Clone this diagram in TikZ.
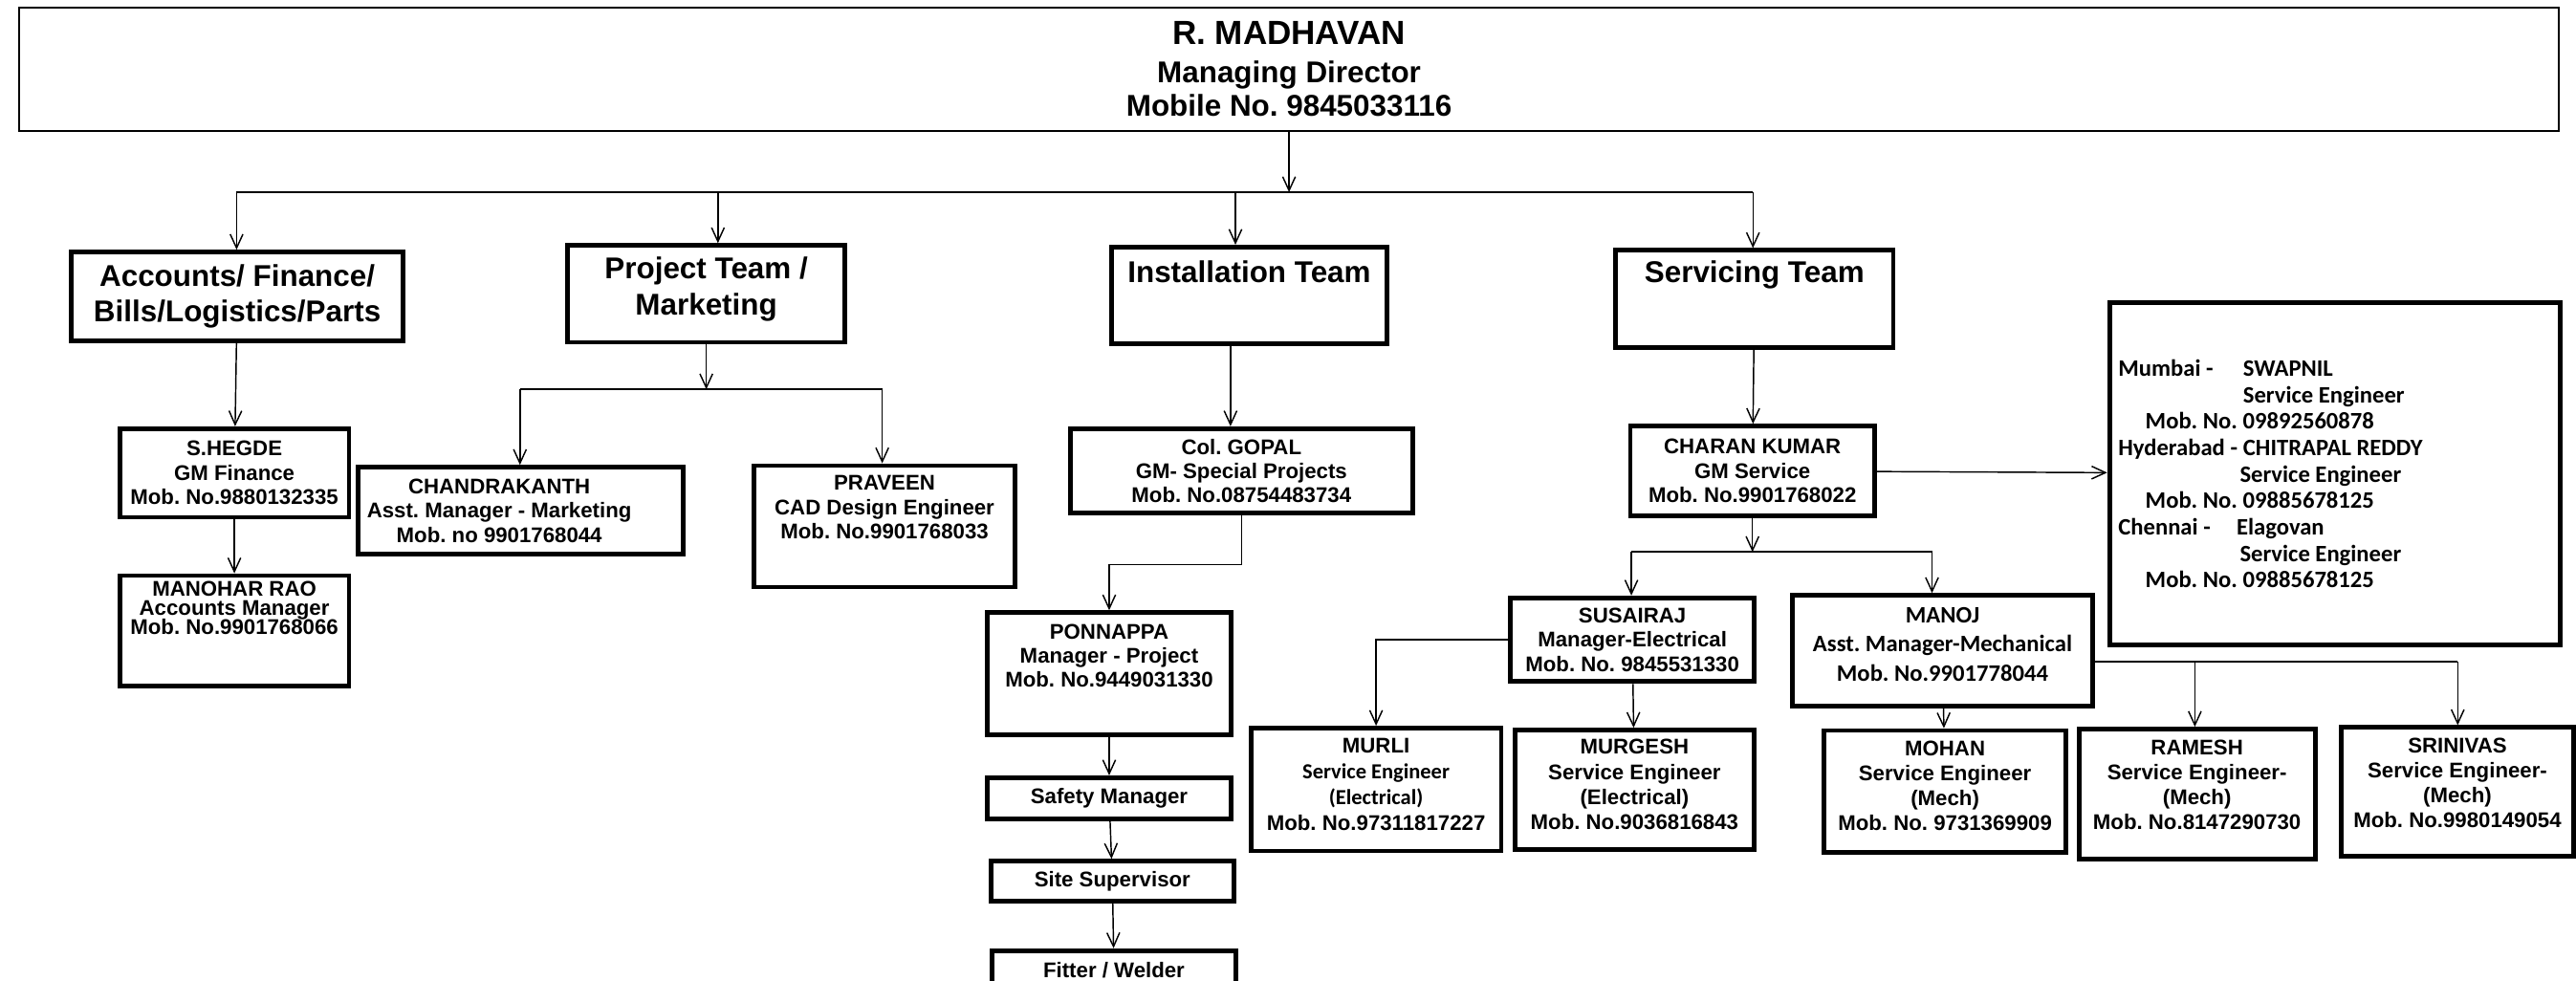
\documentclass[tikz,border=0pt]{standalone}
\usepackage{fontspec}
\setmainfont{Liberation Sans}
\newfontfamily\carlito{Carlito}
\usetikzlibrary{arrows.meta}
\frenchspacing
\newlength{\pxu}
\setlength{\pxu}{0.025cm}
\newcommand{\orgcell}[4][0]{\parbox[c][#3\pxu][c]{#2\pxu}{\centering #4\par\vspace{#1\pxu}}}
\newcommand{\fteam}{\fontsize{13}{15.6}\selectfont}
\newcommand{\fsm}{\fontsize{9.2}{10.5}\selectfont}
\newcommand{\fsmb}{\fontsize{9.2}{10.8}\selectfont}
\newcommand{\fcal}{\carlito\fontsize{10.2}{11.45}\selectfont}
\newcommand{\fcals}{\carlito\fontsize{9.3}{11}\selectfont}

\begin{document}
\begin{tikzpicture}[x=0.025cm, y=-0.025cm, font=\bfseries,
    >={Straight Barb[length=6pt,width=5.5pt]},
    box/.style={draw, line width=2pt, inner sep=0pt, anchor=north west},
    link/.style={->, line width=0.6pt},
    bus/.style={line width=0.9pt}]
\useasboundingbox (0,0) rectangle (1568,597);

\node[box, line width=0.9pt] (md) at (11,4) {\orgcell{1546}{75}{\fontsize{13}{14.6}\selectfont{\fontsize{14.5}{17}\selectfont R. MADHAVAN}\\[2pt]Managing Director\\Mobile No. 9845033116}};

\node[box] (acc) at (42,152) {\orgcell{202}{54}{\fteam Accounts/ Finance/\\Bills/Logistics/Parts}};
\node[box] (proj) at (344,148) {\orgcell[6]{169}{59}{\fteam Project Team /\\Marketing}};
\node[box] (inst) at (675,149) {\orgcell[29]{168}{59}{\fteam Installation Team}};
\node[box] (serv) at (982,151) {\orgcell[29]{169}{59}{\fteam Servicing Team}};

\node[box] (hegde) at (71.5,259.5) {\orgcell{139.5}{54}{\fsm S.HEGDE\\GM Finance\\Mob. No.9880132335}};
\node[box] (manohar) at (71.5,349) {\orgcell[28]{139.5}{67}{\lineskiplimit=-5pt\relax\fontsize{9.2}{8.2}\selectfont MANOHAR RAO\\Accounts Manager\\Mob. No.9901768066}};

\node[box] (chandra) at (216.5,283) {\orgcell{198}{53}{\rightskip=26\pxu plus 1fil\relax\fsm CHANDRAKANTH\\Asst. Manager - Marketing\\Mob. no 9901768044}};
\node[box] (praveen) at (457.5,282) {\orgcell[23]{159}{74}{\fsm PRAVEEN\\CAD Design Engineer\\Mob. No.9901768033}};

\node[box] (gopal) at (650,259.5) {\orgcell{208.5}{51.5}{\fsm Col. GOPAL\\GM- Special Projects\\Mob. No.08754483734}};
\node[box] (ponnappa) at (599.5,371.5) {\orgcell[22]{148.5}{74.5}{\fsm PONNAPPA\\Manager - Project\\Mob. No.9449031330}};
\node[box] (safety) at (599.5,472) {\orgcell{148.5}{25}{\fsm Safety Manager}};
\node[box] (site) at (601.7,522.8) {\orgcell{148}{24.2}{\fsm Site Supervisor}};
\node[box] (fitter) at (602.5,577.2) {\orgcell{148.3}{24.5}{\fsm Fitter / Welder}};

\node[box] (charan) at (991,258) {\orgcell{148.6}{54.5}{\fsm CHARAN KUMAR\\GM Service\\Mob. No.9901768022}};
\node[box] (region) at (1282.6,183) {\parbox[c][208\pxu][c]{274.4\pxu}{\fcal\raggedright\leftskip=5.4\pxu\relax
    \makebox[76\pxu][l]{Mumbai -}SWAPNIL\\
    \hspace*{76\pxu}Service Engineer\\
    \hspace*{16.5\pxu}Mob. No. 09892560878\\
    \makebox[76\pxu][l]{Hyderabad -}CHITRAPAL REDDY\\
    \hspace*{74\pxu}Service Engineer\\
    \hspace*{16.5\pxu}Mob. No. 09885678125\\
    \makebox[72\pxu][l]{Chennai -}Elagovan\\
    \hspace*{74\pxu}Service Engineer\\
    \hspace*{16.5\pxu}Mob. No. 09885678125\par}};
\node[box] (susairaj) at (918,362.5) {\orgcell{148.4}{51}{\fsm SUSAIRAJ\\Manager-Electrical\\Mob. No. 9845531330}};
\node[box] (manoj) at (1089.5,361) {\orgcell[8]{183}{67.6}{\carlito\fontsize{10.2}{12.5}\selectfont MANOJ\\Asst. Manager-Mechanical\\Mob. No.9901778044}};
\node[box] (murli) at (760,441.8) {\orgcell[6]{152.4}{74.8}{\fontsize{9.2}{11.1}\selectfont MURLI\\{\fcals Service Engineer}\\{\fcals (Electrical)}\\Mob. No.97311817227}};
\node[box] (murgesh) at (920.6,443) {\orgcell[6]{145.8}{72.7}{\fontsize{9.2}{10.9}\selectfont MURGESH\\Service Engineer\\(Electrical)\\Mob. No.9036816843}};
\node[box] (mohan) at (1109,443.3) {\orgcell[7]{147}{74.3}{\fsmb MOHAN\\Service Engineer\\(Mech)\\Mob. No. 9731369909}};
\node[box] (ramesh) at (1264,442.4) {\orgcell[11]{143.8}{79.1}{\fsmb RAMESH\\Service Engineer-\\(Mech)\\Mob. No.8147290730}};
\node[box] (srinivas) at (1423.8,441.4) {\orgcell[11]{141.2}{78.6}{\fsmb SRINIVAS\\Service Engineer-\\(Mech)\\Mob. No.9980149054}};

\coordinate (b1) at (144,117);
\coordinate (b2) at (437,117);
\coordinate (b3) at (752,117);
\coordinate (b4) at (1067,117);
\draw[bus] (b1) -- (b4);
\draw[link] (md.south) -- (md.south |- b1);
\foreach \c/\n in {b1/acc, b2/proj, b3/inst, b4/serv}
    \draw[link] (\c) -- (\c |- \n.north);

\draw[link] (acc) -- (hegde);
\draw[link] (hegde) -- (manohar);
\coordinate (p1) at (316.5,237);
\coordinate (p2) at (537,237);
\draw[bus] (p1) -- (p2);
\draw[link] (proj.south) -- (proj.south |- p1);
\draw[link] (p1) -- (p1 |- chandra.north);
\draw[link] (p2) -- (p2 |- praveen.north);

\coordinate (g1) at (749,0);
\draw[link] (inst.south -| g1) -- (gopal.north -| g1);
\draw[link] (gopal.south) -- ++(0,30) -| (ponnappa.north);
\draw[link] (ponnappa) -- (safety);
\draw[link] (safety) -- (site);
\draw[link] (site) -- (fitter);

\draw[link] (serv) -- (charan);
\draw[link] (charan) -- (region);
\coordinate (c1) at (993,336);
\coordinate (c2) at (1176,336);
\draw[bus] (c1) -- (c2);
\draw[link] (charan.south) -- (charan.south |- c1);
\draw[link] (c1) -- (c1 |- susairaj.north);
\draw[link] (c2) -- (c2 |- manoj.north);
\draw[link] (susairaj.west) -| (murli.north);
\draw[link] (susairaj) -- (murgesh);
\draw[link] (manoj) -- (mohan);
\coordinate (m1) at (1336,403);
\coordinate (m2) at (1496,403);
\draw[bus] (manoj.east |- m1) -- (m2);
\draw[link] (m1) -- (m1 |- ramesh.north);
\draw[link] (m2) -- (m2 |- srinivas.north);
\end{tikzpicture}
\end{document}
